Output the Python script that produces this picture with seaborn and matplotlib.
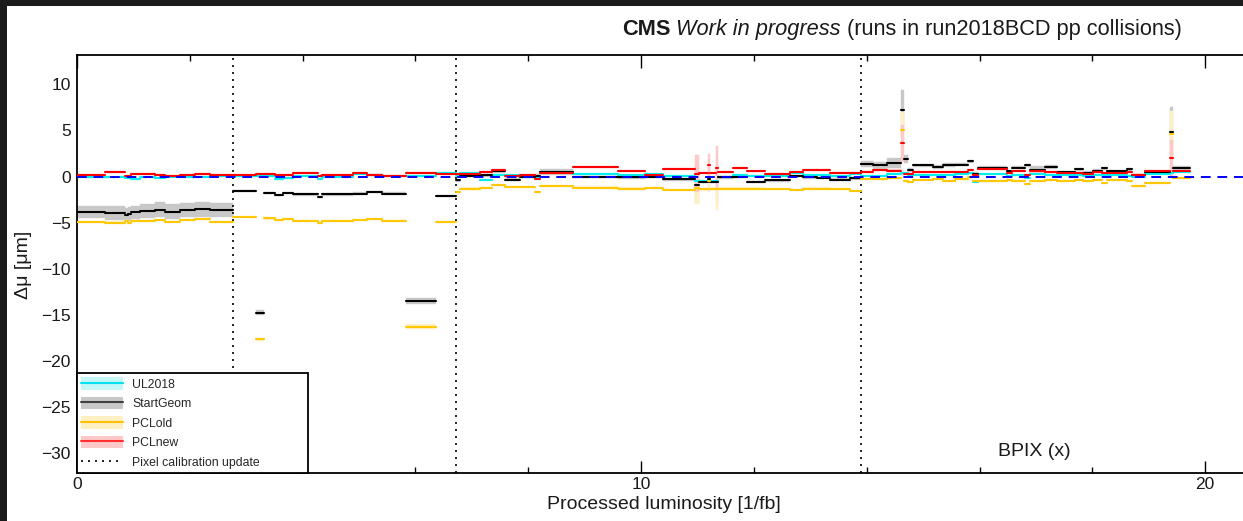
import numpy as np
import pandas as pd
import matplotlib
matplotlib.use("Agg")
import matplotlib.pyplot as plt
from matplotlib.patches import Patch, Rectangle
from matplotlib.lines import Line2D
from matplotlib.ticker import MultipleLocator
import seaborn as sns

# ---------------- data ----------------
run_edges = [0.00, 0.41, 0.50, 0.85, 0.90, 0.96, 1.12, 1.38, 1.56, 1.83, 2.09, 2.36, 2.77,
             3.17, 3.32, 3.51, 3.65, 3.83, 4.27, 4.34, 4.89, 5.14, 5.41, 5.83, 6.37, 6.72,
             6.79, 7.15, 7.36, 7.59, 7.85, 8.12, 8.21, 8.79, 9.59, 10.07, 10.39, 10.96, 11.03,
             11.19, 11.22, 11.33, 11.37, 11.63, 11.88, 12.20, 12.64, 12.87, 13.12, 13.35, 13.71, 13.89,
             14.11, 14.36, 14.61, 14.66, 14.73, 14.82, 15.18, 15.35, 15.57, 15.80, 15.89, 15.98,
             16.49, 16.58, 16.81, 16.90, 17.16, 17.38, 17.70, 17.84, 18.01, 18.17, 18.26, 18.62,
             18.71, 18.94, 19.38, 19.43, 19.73]

ul2018 = [-0.10, -0.05, -0.10, -0.20, -0.15, -0.30, -0.10, -0.20, 0.00, -0.05, 0.00, 0.05,
          0.05, 0.10, 0.05, -0.30, -0.15, 0.10, -0.25, 0.00, 0.25, 0.15, 0.05, 0.10, 0.35,
          0.10, 0.35, -0.40, 0.20, 0.20, 0.00, -0.10, 0.50, 0.30, 0.15, 0.30, 0.10, -0.50, -0.50,
          0.00, -0.45, -0.50, 0.00, 0.15, 0.10, 0.10, 0.40, 0.15, 0.15, 0.10, 0.25,
          0.10, 0.10, 0.30, 0.40, 0.35, 0.20, 0.20, 0.15, 0.20, 0.25, 0.40, -0.60, 0.25, 0.10,
          0.20, -0.20, 0.30, 0.20, 0.15, 0.20, 0.05, 0.20, 0.15, 0.20, 0.10, 0.00, 0.25, 0.40, 0.45]
startgeom = [-3.85, -3.85, -3.95, -4.20, -4.05, -3.90, -3.75, -3.60, -3.80, -3.60, -3.55, -3.60,
             -1.60, -14.80, -1.75, -2.00, -1.80, -1.95, -2.20, -1.95, -1.85, -1.65, -1.85, -13.50, -2.10,
             -0.40, 0.10, 0.15, 0.55, -0.35, 0.00, 0.10, 0.50, -0.05, -0.10, -0.05, -0.30, -0.90, -0.60,
             -0.30, -0.60, -0.60, -0.10, -0.05, -0.60, -0.40, 0.05, -0.10, -0.15, -0.35, -0.20,
             1.35, 1.20, 1.50, 7.25, 1.90, 0.70, 1.20, 1.05, 1.25, 1.30, 1.65, 0.30, 0.95, 0.60,
             0.95, 1.20, 0.70, 1.00, 0.50, 0.80, 0.40, 0.65, 0.90, 0.55, 0.80, 0.15, 0.50, 4.80, 0.90]
pclold = [-4.95, -4.95, -5.00, -4.85, -5.00, -4.85, -4.80, -4.75, -4.95, -4.75, -4.60, -4.90,
          -4.40, -17.70, -4.55, -4.75, -4.60, -4.80, -5.00, -4.80, -4.75, -4.60, -4.80, -16.30, -4.90,
          -1.70, -1.30, -1.25, -0.90, -1.10, -1.10, -1.70, -1.00, -1.20, -1.30, -1.25, -1.50, -1.20, -1.40,
          -0.50, -1.30, -1.30, -1.30, -1.30, -1.30, -1.35, -1.45, -1.30, -1.30, -1.35, -1.55,
          -0.30, -0.30, -0.20, 5.00, -0.50, -0.60, -0.35, -0.30, -0.45, -0.25, -0.10, -0.50, -0.50, -0.40,
          -0.45, -0.80, -0.50, -0.40, -0.45, -0.35, -0.50, -0.40, -0.70, -0.35, -0.50, -1.00, -0.70, 4.60, -0.15]
pclnew = [0.15, 0.20, 0.45, 0.10, 0.10, 0.25, 0.30, 0.15, 0.10, 0.15, 0.30, 0.15,
          0.20, 0.25, 0.30, 0.15, 0.20, 0.40, 0.05, 0.15, 0.40, 0.20, 0.10, 0.40, 0.30,
          0.30, 0.25, 0.50, 0.70, 0.10, 0.15, -0.30, 0.35, 1.00, 0.60, 0.15, 0.80, 0.30, 0.40,
          1.20, 0.40, 0.90, 0.50, 0.90, 0.55, 0.30, 0.50, 0.75, 0.70, 0.35, 0.40,
          0.50, 0.75, 0.65, 3.60, 0.30, 0.30, 0.45, 0.50, 0.45, 0.50, 0.70, 0.20, 0.80, 0.35,
          0.60, 0.20, 0.55, 0.45, 0.40, 0.40, 0.30, 0.45, 0.40, 0.40, 0.45, 0.20, 0.60, 2.00, 0.60]

ul2018_err = [0.10, 0.10, 0.10, 0.10, 0.10, 0.10, 0.10, 0.10, 0.10, 0.10, 0.10, 0.10,
              0.10, 0.10, 0.10, 0.10, 0.10, 0.10, 0.10, 0.10, 0.10, 0.10, 0.10, 0.10, 0.10,
              0.10, 0.10, 0.10, 0.10, 0.10, 0.10, 0.10, 0.10, 0.10, 0.10, 0.10, 0.10, 0.30, 0.10,
              0.30, 0.10, 0.30, 0.10, 0.10, 0.10, 0.10, 0.10, 0.10, 0.10, 0.10, 0.10,
              0.10, 0.10, 0.10, 0.30, 0.10, 0.10, 0.10, 0.10, 0.10, 0.10, 0.10, 0.10, 0.10, 0.10,
              0.10, 0.10, 0.10, 0.10, 0.10, 0.10, 0.10, 0.10, 0.10, 0.10, 0.10, 0.10, 0.10, 0.30, 0.10]
startgeom_err = [0.70, 0.70, 0.75, 0.75, 0.75, 0.75, 0.80, 0.80, 0.80, 0.75, 0.80, 0.75,
                 0.12, 0.25, 0.12, 0.12, 0.12, 0.12, 0.12, 0.12, 0.15, 0.12, 0.12, 0.30, 0.12,
                 0.15, 0.15, 0.15, 0.20, 0.15, 0.15, 0.15, 0.35, 0.15, 0.15, 0.15, 0.15, 2.00, 0.15,
                 1.30, 0.15, 2.50, 0.15, 0.15, 0.15, 0.15, 0.15, 0.15, 0.15, 0.15, 0.15,
                 0.30, 0.40, 0.55, 2.20, 0.40, 0.20, 0.20, 0.20, 0.20, 0.20, 0.20, 0.20, 0.15, 0.15,
                 0.15, 0.15, 0.45, 0.20, 0.15, 0.15, 0.15, 0.15, 0.15, 0.15, 0.15, 0.15, 0.15, 2.70, 0.20]
pclold_err = [0.12, 0.12, 0.12, 0.12, 0.12, 0.12, 0.12, 0.12, 0.12, 0.12, 0.12, 0.12,
              0.12, 0.20, 0.12, 0.12, 0.12, 0.12, 0.12, 0.12, 0.12, 0.12, 0.12, 0.30, 0.12,
              0.12, 0.12, 0.12, 0.12, 0.12, 0.12, 0.12, 0.12, 0.12, 0.12, 0.12, 0.12, 1.80, 0.12,
              1.00, 0.12, 2.30, 0.12, 0.12, 0.12, 0.12, 0.12, 0.12, 0.12, 0.12, 0.12,
              0.12, 0.12, 0.12, 2.00, 0.12, 0.12, 0.12, 0.12, 0.12, 0.12, 0.12, 0.12, 0.12, 0.12,
              0.12, 0.12, 0.12, 0.12, 0.12, 0.12, 0.12, 0.12, 0.12, 0.12, 0.12, 0.12, 0.12, 2.50, 0.12]
pclnew_err = [0.10, 0.10, 0.10, 0.10, 0.10, 0.10, 0.10, 0.10, 0.10, 0.10, 0.10, 0.10,
              0.10, 0.10, 0.10, 0.10, 0.10, 0.10, 0.10, 0.10, 0.10, 0.10, 0.10, 0.10, 0.10,
              0.10, 0.10, 0.10, 0.10, 0.10, 0.10, 0.10, 0.10, 0.10, 0.10, 0.10, 0.10, 2.00, 0.10,
              1.30, 0.10, 2.40, 0.10, 0.10, 0.10, 0.10, 0.10, 0.10, 0.10, 0.10, 0.10,
              0.12, 0.12, 0.12, 2.00, 0.12, 0.12, 0.12, 0.12, 0.12, 0.12, 0.12, 0.12, 0.12, 0.12,
              0.12, 0.12, 0.12, 0.12, 0.12, 0.12, 0.12, 0.12, 0.12, 0.12, 0.12, 0.12, 0.12, 2.00, 0.12]

series_names = ["UL2018", "StartGeom", "PCLold", "PCLnew"]
calibration_updates = [2.77, 6.72, 13.89]
x_ticks = [0, 10, 20]
y_ticks = [-30, -25, -20, -15, -10, -5, 0, 5, 10]

# ---------------- style ----------------
line_colors = ["#00f0f0", "#000000", "#ffc800", "#ff0000"]
band_colors = ["#c4f8f8", "#c8c8c8", "#fff0c4", "#ffc8c8"]
legend_line_colors = ["#00e0f0", "#404040", "#ffc000", "#ff3030"]

sns.set_theme(style="white")
plt.rcParams["font.family"] = ["Liberation Sans", "DejaVu Sans"]
plt.rcParams["axes.unicode_minus"] = True

W, H = 1243, 521
fig = plt.figure(figsize=(W / 100, H / 100), dpi=100)
fig.patch.set_facecolor("#1b1b1b")
fig.add_artist(Rectangle((7 / W, 0), 1, (H - 6) / H, transform=fig.transFigure,
                         facecolor="white", edgecolor="none", zorder=-10))
ax = fig.add_axes([77 / W, (H - 473) / H, 1179 / W, 418 / H])
ax.set_facecolor("white")

starts = np.array(run_edges[:-1])
ends = np.array(run_edges[1:])
values = [np.array(ul2018), np.array(startgeom), np.array(pclold), np.array(pclnew)]
errors = [np.array(ul2018_err), np.array(startgeom_err), np.array(pclold_err), np.array(pclnew_err)]

# uncertainty bands
for v, e, c in zip(values, errors, band_colors):
    ax.bar(starts, 2 * e, bottom=v - e, width=ends - starts, align="edge",
           color=c, edgecolor=c, linewidth=0.3, zorder=1)

# per-run step lines through seaborn
rows = []
for name, v in zip(series_names, values):
    for i, (a, b, y) in enumerate(zip(starts, ends, v)):
        rows.append((name, i, a, y))
        rows.append((name, i, b, y))
df = pd.DataFrame(rows, columns=["series", "run", "lumi", "value"])
sns.lineplot(data=df, x="lumi", y="value", hue="series", units="run", estimator=None,
             hue_order=series_names, palette=line_colors, linewidth=1.5,
             legend=False, ax=ax, zorder=3)

dot_style = (0, (1.2, 3.0))
for xv in calibration_updates:
    ax.axvline(xv, color="black", ls=dot_style, lw=1.2, zorder=2)
ax.axhline(0, color="#0000ff", ls=(0, (5, 3.5)), lw=1.4, zorder=4)

ax.set_xlim(0, 20.9)
ax.set_ylim(-32.2, 13.2)
ax.set_xticks(x_ticks)
ax.xaxis.set_minor_locator(MultipleLocator(2))
ax.set_yticks(y_ticks)
ax.tick_params(axis="x", which="both", direction="in", top=True, bottom=True,
               labelsize=12.5, pad=3, color="black", labelcolor="#1a1a1a", width=1.0)
ax.tick_params(axis="x", which="major", length=9)
ax.tick_params(axis="x", which="minor", length=4.5)
ax.tick_params(axis="y", which="both", length=0, pad=4.5, labelsize=12.5, labelcolor="#1a1a1a")
for s in ax.spines.values():
    s.set_color("black")
    s.set_linewidth(1.3)

ax.set_xlabel("Processed luminosity [1/fb]", fontsize=14, color="#1a1a1a")
ax.xaxis.set_label_coords((664 - 77) / 1179, (473 - 496) / 418)
ax.set_ylabel("Δμ [μm]", fontsize=14, color="#1a1a1a")
ax.yaxis.set_label_coords((32 - 77) / 1179, (473 - 265) / 418)

ax.text((1034 - 77) / 1179, (473 - 452) / 418, "BPIX (x)", transform=ax.transAxes,
        ha="center", va="center", fontsize=14, color="#1a1a1a")

# title pieces
t1 = fig.text(622 / W, (H - 35) / H, "CMS", fontsize=15.7, fontweight="bold",
              ha="left", va="baseline", color="#1a1a1a")
t2 = ax.annotate(" Work in progress", xy=(1, 0), xycoords=t1, ha="left", va="bottom",
                 fontsize=15.7, style="italic", color="#1a1a1a")
t3 = ax.annotate(" (runs in run2018BCD pp collisions)", xy=(1, 0), xycoords=t2, ha="left",
                 va="bottom", fontsize=15.7, color="#1a1a1a")

# legend
handles = [(Patch(facecolor=bc, edgecolor="none"), Line2D([], [], color=lc, lw=1.5))
           for bc, lc in zip(band_colors, legend_line_colors)]
handles.append(Line2D([], [], color="black", ls=dot_style, lw=1.2))
labels = series_names + ["Pixel calibration update"]
leg = ax.legend(handles, labels, loc="lower left", bbox_to_anchor=(0, 0, 231 / 1179, 0.3),
                mode="expand", borderaxespad=0, borderpad=0.35, labelspacing=0.5,
                handlelength=3.4, handleheight=1.2, handletextpad=0.75, fontsize=8.8,
                frameon=True, fancybox=False, framealpha=1, edgecolor="black")
leg.get_frame().set_linewidth(1.3)
leg.set_zorder(10)

fig.savefig("out.png", dpi=100, facecolor=fig.get_facecolor())
